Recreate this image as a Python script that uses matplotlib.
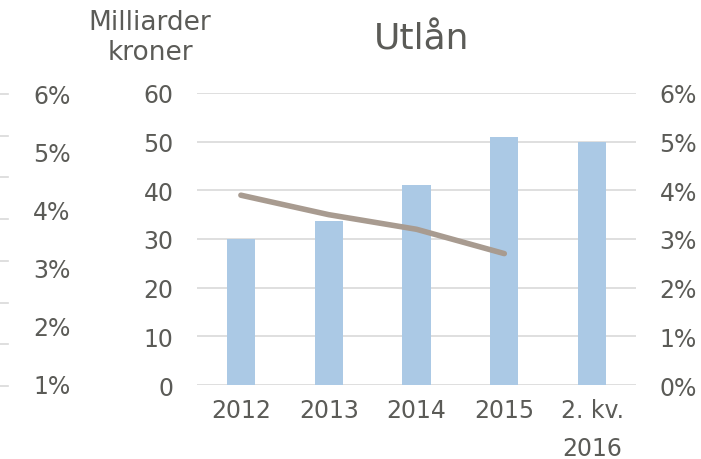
import numpy as np
import matplotlib
matplotlib.use('Agg')
import matplotlib.pyplot as plt
from matplotlib.lines import Line2D

# ── Data ──────────────────────────────────────────────────────
categories = ['2012', '2013', '2014', '2015', '2. kv.\n2016']
loans_bn   = [30.0, 33.7, 41.1, 50.9, 50.0]       # Milliarder kroner
rate_pct   = [3.9, 3.5, 3.2, 2.7]                 # % (no value for 2016)
left_ticks   = [0, 10, 20, 30, 40, 50, 60]
right_ticks  = [0, 1, 2, 3, 4, 5, 6]
# cut-off axis from the neighbouring chart
stray_labels = ['6%', '5%', '4%', '3%', '2%', '1%']

TEXT = '#5b5b57'
GRID = '#d9d9d9'
BAR  = '#abc9e5'
LINE = '#a89b90'
FS = 17

W, H = 701, 460
fig = plt.figure(figsize=(W / 100, H / 100), dpi=100)

# plot area in pixels
x0, x1, y_top, y_bot = 197, 636, 94, 386
ax = fig.add_axes([x0 / W, 1 - y_bot / H, (x1 - x0) / W, (y_bot - y_top) / H])

x = np.arange(len(categories))
ax.bar(x, loans_bn, width=0.32, color=BAR, zorder=2)
ax.set_xlim(-0.5, len(categories) - 0.5)
ax.set_ylim(0, 60)
ax.set_yticks(left_ticks)
ax.set_xticks(x)
ax.set_xticklabels(categories, linespacing=1.75)
for t in ax.get_xticklabels():
    t.set_verticalalignment('top')
ax.grid(axis='y', color=GRID, lw=1.2, zorder=0)
ax.tick_params(length=0, labelsize=FS, colors=TEXT)
ax.tick_params(axis='y', pad=17)
ax.tick_params(axis='x', pad=9)
for s in ax.spines.values():
    s.set_visible(False)

ax2 = ax.twinx()
ax2.plot(x[:len(rate_pct)], rate_pct, color=LINE, lw=4, solid_capstyle='round', zorder=3)
ax2.set_ylim(0, 6)
ax2.set_yticks(right_ticks)
ax2.set_yticklabels([f'{v}%' for v in right_ticks])
ax2.tick_params(length=0, labelsize=FS, colors=TEXT, pad=17)
for s in ax2.spines.values():
    s.set_visible(False)

# titles
fig.text(422 / W, 1 - 40 / H, 'Utlån', ha='center', va='center', fontsize=26, color=TEXT)
fig.text(150 / W, 1 - 38 / H, 'Milliarder\nkroner', ha='center', va='center',
         fontsize=19, color=TEXT, linespacing=1.15)

# remnant axis on the far left
for i, lab in enumerate(stray_labels):
    fig.text(52 / W, 1 - (97 + i * 58) / H, lab, ha='center', va='center',
             fontsize=FS, color=TEXT)
for k in range(8):
    yy = 1 - (95 + k * 41.7) / H
    fig.add_artist(Line2D([0, 8 / W], [yy, yy], color=GRID, lw=1.2))

fig.savefig('out.png', dpi=100)
